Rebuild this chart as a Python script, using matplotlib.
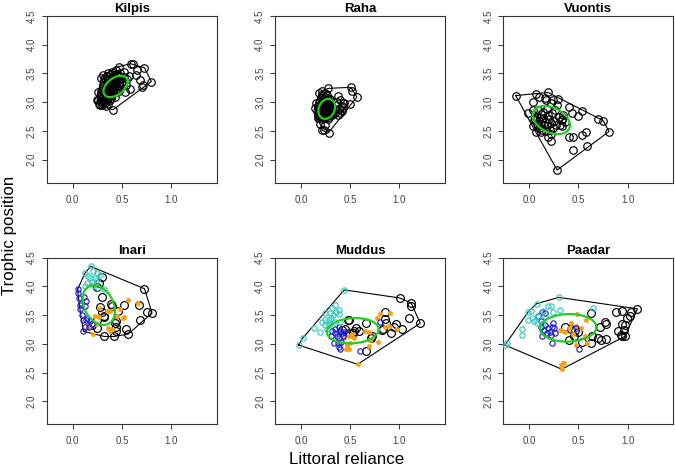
import numpy as np
import matplotlib
matplotlib.use("Agg")
import matplotlib.pyplot as plt

plt.rcParams['font.family'] = ['Liberation Sans', 'DejaVu Sans']

lakes = ["Kilpis", "Raha", "Vuontis", "Inari", "Muddus", "Paadar"]

# --- top row: single group (black open circles) ---
kilpis_pts = [
    (0.41, 2.87), (0.80, 3.36), (0.73, 3.60), (0.59, 3.67), (0.61, 3.66), (0.65, 3.56),
    (0.64, 3.47), (0.68, 3.39), (0.70, 3.26), (0.71, 3.30), (0.58, 3.23), (0.52, 3.53),
    (0.44, 3.56), (0.26, 3.18), (0.26, 3.04), (0.28, 2.95), (0.34, 2.94), (0.54, 3.30),
    (0.47, 3.62), (0.27, 2.97), (0.30, 2.96), (0.33, 2.99), (0.36, 2.97), (0.25, 3.03),
    (0.29, 3.05), (0.32, 3.02), (0.35, 3.06), (0.38, 3.03), (0.28, 3.11), (0.31, 3.09),
    (0.34, 3.12), (0.37, 3.10), (0.40, 3.13), (0.43, 3.09), (0.29, 3.19), (0.32, 3.17),
    (0.35, 3.20), (0.38, 3.18), (0.41, 3.21), (0.44, 3.17), (0.47, 3.20), (0.31, 3.27),
    (0.34, 3.25), (0.37, 3.28), (0.40, 3.26), (0.43, 3.29), (0.46, 3.25), (0.49, 3.27),
    (0.32, 3.35), (0.35, 3.33), (0.38, 3.36), (0.41, 3.34), (0.44, 3.37), (0.47, 3.33),
    (0.50, 3.36), (0.33, 3.43), (0.36, 3.41), (0.40, 3.44), (0.43, 3.42), (0.46, 3.45),
    (0.49, 3.41), (0.52, 3.44), (0.36, 3.50), (0.40, 3.52), (0.44, 3.49), (0.48, 3.51),
    (0.29, 3.42), (0.31, 3.47), (0.55, 3.40), (0.57, 3.45), (0.53, 3.18),
    (0.285, 3.00), (0.315, 3.01), (0.345, 3.04), (0.30, 3.07), (0.33, 3.07), (0.36, 3.09),
    (0.39, 3.08), (0.295, 3.14), (0.325, 3.14), (0.355, 3.15), (0.385, 3.14), (0.415, 3.16),
    (0.305, 3.22), (0.335, 3.22), (0.365, 3.23), (0.395, 3.23), (0.425, 3.24), (0.455, 3.23),
    (0.32, 3.30), (0.35, 3.30), (0.38, 3.31), (0.41, 3.30), (0.44, 3.32), (0.47, 3.30),
    (0.34, 3.38), (0.37, 3.39), (0.40, 3.39), (0.43, 3.40), (0.46, 3.39), (0.35, 3.46),
    (0.38, 3.47), (0.42, 3.47), (0.45, 3.47), (0.48, 3.46),
]
raha_pts = [
    (0.276, 3.24), (0.507, 3.26), (0.517, 3.19), (0.568, 3.09), (0.503, 2.965), (0.38, 3.10),
    (0.40, 3.04), (0.43, 2.98), (0.432, 2.90), (0.415, 2.84), (0.38, 2.78), (0.347, 2.81),
    (0.313, 2.78), (0.245, 2.60), (0.23, 2.51), (0.28, 2.47), (0.194, 2.62), (0.184, 3.16),
    (0.21, 3.19), (0.245, 3.16), (0.153, 2.98), (0.143, 2.90), (0.177, 2.72), (0.218, 2.51),
    (0.18, 2.72), (0.21, 2.70), (0.24, 2.73), (0.27, 2.71), (0.17, 2.78), (0.20, 2.80),
    (0.23, 2.77), (0.26, 2.79), (0.29, 2.78), (0.32, 2.80), (0.16, 2.85), (0.19, 2.87),
    (0.22, 2.84), (0.25, 2.86), (0.28, 2.85), (0.31, 2.87), (0.17, 2.93), (0.20, 2.91),
    (0.23, 2.94), (0.26, 2.92), (0.29, 2.94), (0.32, 2.92), (0.18, 3.00), (0.21, 2.98),
    (0.24, 3.01), (0.27, 2.99), (0.30, 3.02), (0.20, 3.07), (0.23, 3.05), (0.26, 3.08),
    (0.29, 3.06), (0.22, 3.13), (0.26, 3.12), (0.36, 2.95), (0.39, 2.88), (0.42, 2.93),
    (0.37, 3.01), (0.44, 2.98), (0.40, 2.82), (0.35, 2.86),
    (0.195, 2.75), (0.225, 2.75), (0.255, 2.76), (0.285, 2.75), (0.185, 2.82), (0.215, 2.82),
    (0.245, 2.82), (0.275, 2.82), (0.305, 2.83), (0.18, 2.89), (0.21, 2.89), (0.24, 2.90),
    (0.27, 2.89), (0.30, 2.90), (0.19, 2.96), (0.22, 2.96), (0.25, 2.97), (0.28, 2.96),
    (0.31, 2.97), (0.21, 3.03), (0.245, 3.03), (0.28, 3.03),
]
vuontis_pts = [
    (-0.138, 3.116), (0.069, 3.145), (0.19, 3.17), (0.155, 3.07), (0.103, 3.09), (0.241, 3.04),
    (0.293, 3.06), (0.217, 2.98), (0.172, 3.04), (0.034, 3.00), (-0.017, 2.81), (0.034, 2.87),
    (0.086, 2.87), (0.052, 2.69), (0.034, 2.58), (0.086, 2.58), (0.069, 2.49), (0.12, 2.49),
    (0.19, 2.40), (0.224, 2.33), (0.283, 1.82), (0.407, 2.39), (0.441, 2.40), (0.441, 2.17),
    (0.541, 2.43), (0.576, 2.49), (0.586, 2.23), (0.81, 2.49), (0.752, 2.68), (0.70, 2.71),
    (0.534, 2.84), (0.50, 2.76), (0.43, 2.81), (0.407, 2.92), (0.328, 2.69), (0.345, 2.78),
    (0.362, 2.65), (0.31, 2.61), (0.328, 2.58), (0.08, 2.75), (0.10, 2.68), (0.12, 2.62),
    (0.14, 2.72), (0.16, 2.66), (0.18, 2.58), (0.20, 2.70), (0.22, 2.63), (0.24, 2.55),
    (0.10, 2.55), (0.13, 2.52), (0.17, 2.50), (0.12, 2.80), (0.15, 2.60), (0.19, 2.77),
    (0.25, 2.68), (0.27, 2.60), (0.08, 2.62), (0.21, 2.52), (0.06, 2.70), (0.11, 2.72),
    (0.23, 2.82), (0.30, 2.75), (0.33, 2.70), (0.26, 2.86), (0.18, 2.88), (0.14, 2.83),
    (0.28, 2.95), (0.22, 2.45),
]

# --- bottom row: four groups ---
inari_black = [
    (0.30, 4.16), (0.27, 4.06), (0.243, 3.99), (0.30, 3.81), (0.277, 3.64), (0.39, 3.70),
    (0.40, 3.66), (0.456, 3.57), (0.524, 3.67), (0.672, 3.67), (0.73, 3.96), (0.757, 3.55),
    (0.807, 3.54), (0.686, 3.42), (0.54, 3.26), (0.564, 3.17), (0.42, 3.13), (0.32, 3.13),
    (0.44, 3.22), (0.436, 3.30), (0.43, 3.37), (0.314, 3.49), (0.317, 3.47), (0.25, 3.41),
    (0.25, 3.28), (0.196, 3.33), (0.44, 3.40), (0.294, 3.55),
]
inari_orange = [
    (0.567, 3.76), (0.48, 3.61), (0.52, 3.47), (0.51, 3.45), (0.378, 3.57), (0.345, 3.57),
    (0.27, 3.62), (0.264, 3.47), (0.226, 3.49), (0.233, 3.35), (0.159, 3.33), (0.159, 3.27),
    (0.21, 3.18), (0.36, 3.28), (0.395, 3.26), (0.378, 3.22), (0.666, 3.71), (0.45, 3.49),
]
inari_blue = [
    (0.05, 3.95), (0.057, 3.89), (0.064, 3.80), (0.084, 3.72), (0.074, 3.60), (0.09, 3.50),
    (0.108, 3.41), (0.125, 3.30), (0.108, 3.22), (0.135, 3.41), (0.135, 3.75), (0.125, 3.66),
    (0.176, 3.40), (0.193, 3.34), (0.17, 3.30), (0.115, 3.82), (0.074, 3.68), (0.149, 3.45),
]
inari_cyan = [
    (0.182, 4.35), (0.125, 4.23), (0.159, 4.19), (0.21, 4.26), (0.243, 4.23), (0.176, 4.14),
    (0.226, 4.14), (0.193, 4.08), (0.149, 4.06), (0.243, 4.11), (0.21, 4.03), (0.277, 4.20),
    (0.125, 4.00), (0.26, 3.98), (0.317, 3.95),
]

muddus_black = [
    (1.003, 3.80), (1.12, 3.71), (1.12, 3.66), (1.10, 3.45), (1.213, 3.36), (1.03, 3.26),
    (0.97, 3.34), (0.95, 3.30), (0.92, 3.19), (0.858, 3.56), (0.858, 3.43), (0.864, 3.37),
    (0.824, 3.24), (0.83, 3.26), (0.72, 3.13), (0.664, 3.36), (0.66, 2.88), (0.71, 3.10),
    (0.478, 3.42), (0.49, 3.41), (0.535, 3.23), (0.525, 3.19), (0.586, 3.23), (0.56, 3.27),
    (0.45, 3.26), (0.417, 3.24), (0.49, 3.19),
]
muddus_orange = [
    (0.80, 3.52), (0.90, 3.53), (0.776, 3.45), (0.85, 3.30), (0.89, 3.31), (0.976, 3.26),
    (0.654, 3.22), (0.69, 3.20), (0.705, 3.07), (0.78, 3.04), (0.69, 2.97), (0.576, 2.645),
    (0.458, 2.91), (0.49, 2.91), (0.468, 2.98), (0.50, 3.01), (0.535, 3.10), (0.485, 3.13),
    (0.434, 3.10), (0.518, 3.17),
]
muddus_blue = [
    (0.80, 3.39), (0.603, 2.88), (0.383, 3.30), (0.40, 3.23), (0.35, 3.19), (0.366, 3.14),
    (0.383, 3.10), (0.417, 3.19), (0.332, 3.01), (0.383, 2.95), (0.40, 2.91), (0.315, 3.23),
    (0.35, 3.26), (0.41, 3.04), (0.424, 3.14), (0.376, 3.02), (0.305, 3.14), (0.434, 3.21),
]
muddus_cyan = [
    (-0.024, 2.98), (0.017, 3.10), (0.129, 3.27), (0.197, 3.21), (0.247, 3.42), (0.247, 3.33),
    (0.28, 3.42), (0.24, 3.53), (0.298, 3.53), (0.308, 3.45), (0.315, 3.62), (0.35, 3.68),
    (0.383, 3.59), (0.383, 3.52), (0.33, 3.50), (0.44, 3.94), (0.264, 3.26), (0.28, 3.33),
    (0.298, 3.36), (0.35, 3.38), (0.36, 3.56), (0.213, 3.38), (0.40, 3.38),
]

paadar_black = [
    (1.10, 3.61), (1.02, 3.49), (1.03, 3.55), (0.997, 3.45), (0.943, 3.58), (0.88, 3.55),
    (0.97, 3.33), (0.94, 3.34), (0.96, 3.24), (0.90, 3.22), (0.97, 3.13), (0.94, 3.13),
    (0.93, 3.16), (0.78, 3.08), (0.767, 3.38), (0.777, 3.34), (0.716, 3.30), (0.70, 3.10),
    (0.64, 3.14), (0.632, 3.02), (0.625, 3.53), (0.463, 3.24), (0.42, 3.26), (0.36, 3.30),
    (0.40, 3.06), (0.497, 3.21), (0.456, 3.13), (0.537, 3.04), (0.73, 3.07),
]
paadar_orange = [
    (0.58, 3.42), (0.49, 3.52), (0.42, 3.37), (0.40, 3.27), (0.345, 3.23), (0.36, 3.20),
    (0.31, 3.24), (0.48, 3.31), (0.53, 3.28), (0.564, 3.13), (0.48, 2.98), (0.318, 2.64),
    (0.345, 2.66), (0.33, 2.56), (0.355, 2.67), (0.446, 3.18), (0.59, 3.01),
]
paadar_blue = [
    (0.09, 3.49), (0.125, 3.56), (0.159, 3.53), (0.118, 3.40), (0.115, 3.29), (0.125, 3.13),
    (0.159, 3.33), (0.193, 3.27), (0.21, 3.21), (0.226, 3.30), (0.243, 3.36), (0.253, 3.27),
    (0.22, 3.15), (0.26, 3.19), (0.226, 3.01), (0.503, 2.92), (0.48, 3.27), (0.176, 3.19),
    (0.152, 3.24),
]
paadar_cyan = [
    (-0.247, 2.98), (-0.23, 3.01), (-0.078, 3.16), (-0.07, 3.26), (-0.017, 3.42), (-0.01, 3.56),
    (0.017, 3.58), (0.03, 3.45), (0.074, 3.70), (0.09, 3.49), (0.14, 3.58), (0.16, 3.48),
    (0.193, 3.66), (0.22, 3.66), (0.243, 3.56), (0.30, 3.81), (0.31, 3.59), (0.125, 3.35),
    (0.074, 3.37), (0.65, 3.62), (0.05, 3.40),
]

# standard ellipse per lake: centre, sd x, sd y, correlation
ell_cx = [0.436, 0.262, 0.224, 0.265, 0.527, 0.395]
ell_cy = [3.275, 2.885, 2.69, 3.675, 3.23, 3.28]
ell_sx = [0.123, 0.085, 0.19, 0.165, 0.263, 0.287]
ell_sy = [0.186, 0.174, 0.245, 0.345, 0.22, 0.24]
ell_rho = [0.45, 0.2, -0.35, -0.3, 0.1, 0.05]

x_ticks = [0.0, 0.5, 1.0]
y_ticks = [2.0, 2.5, 3.0, 3.5, 4.0, 4.5]


def hull(pts):
    p = sorted(set(pts))
    def cross(o, a, b):
        return (a[0]-o[0])*(b[1]-o[1]) - (a[1]-o[1])*(b[0]-o[0])
    lower = []
    for q in p:
        while len(lower) >= 2 and cross(lower[-2], lower[-1], q) <= 0:
            lower.pop()
        lower.append(q)
    upper = []
    for q in reversed(p):
        while len(upper) >= 2 and cross(upper[-2], upper[-1], q) <= 0:
            upper.pop()
        upper.append(q)
    h = lower[:-1] + upper[:-1]
    return h + [h[0]]


W, H = 675, 466
fig = plt.figure(figsize=(W/100, H/100), dpi=100)

col_left = [46.7, 275, 503.3]
row_top = [16, 257.7]
aw, ah = 170, 166.7

orange = '#F5A01A'
blue = '#1F1FD0'
cyan = '#3CC8C0'
groups = [
    [(kilpis_pts, 'black', 'open', 5.4)],
    [(raha_pts, 'black', 'open', 5.4)],
    [(vuontis_pts, 'black', 'open', 5.4)],
    [(inari_black, 'black', 'open', 5.6), (inari_orange, orange, 'fill', 3.3),
     (inari_blue, blue, 'open', 3.8), (inari_cyan, cyan, 'open', 3.8)],
    [(muddus_black, 'black', 'open', 5.6), (muddus_orange, orange, 'fill', 3.3),
     (muddus_blue, blue, 'open', 3.8), (muddus_cyan, cyan, 'open', 3.8)],
    [(paadar_black, 'black', 'open', 5.6), (paadar_orange, orange, 'fill', 3.3),
     (paadar_blue, blue, 'open', 3.8), (paadar_cyan, cyan, 'open', 3.8)],
]

t = np.linspace(0, 2*np.pi, 200)
for i, name in enumerate(lakes):
    r, c = divmod(i, 3)
    L = col_left[c]
    T = row_top[r]
    ax = fig.add_axes([L/W, 1 - (T+ah)/H, aw/W, ah/H])
    allpts = []
    for g in groups[i]:
        allpts += g[0]
    hp = hull(allpts)
    ax.plot([p[0] for p in hp], [p[1] for p in hp], color='black', lw=0.8, zorder=2)
    for pts, col, kind, ms in groups[i]:
        xs = [p[0] for p in pts]
        ys = [p[1] for p in pts]
        if kind == 'open':
            ax.plot(xs, ys, 'o', ms=ms, mfc='none', mec=col, mew=0.85, zorder=3)
        else:
            ax.plot(xs, ys, 'o', ms=ms, mfc=col, mec=col, mew=0.3, zorder=3)
    ex = ell_cx[i] + ell_sx[i]*np.cos(t)
    ey = ell_cy[i] + ell_sy[i]*(ell_rho[i]*np.cos(t) + np.sqrt(1 - ell_rho[i]**2)*np.sin(t))
    ax.plot(ex, ey, color='#22CC22', lw=1.6, zorder=4)

    ax.set_xlim(-0.264, 1.464)
    ax.set_ylim(1.6, 4.5)
    ax.set_xticks(x_ticks)
    ax.set_xticklabels(['0.0', '0.5', '1.0'])
    ax.set_yticks(y_ticks)
    ax.set_yticklabels([f'{v:.1f}' for v in y_ticks], rotation=90, va='center')
    ax.tick_params(direction='out', length=3.5, width=0.7, labelsize=7, colors='#333333',
                   labelcolor='#444444')
    ax.tick_params(axis='x', pad=5)
    for s in ax.spines.values():
        s.set_linewidth(0.8)
        s.set_color('#333333')
    ax.set_title(name, fontsize=9.5, fontweight='bold', pad=3)

fig.text(10/W, 1 - 235/H, 'Trophic position', rotation=90, ha='center', va='center', fontsize=12.2)
fig.text(347/W, 1 - 459/H, 'Littoral reliance', ha='center', va='center', fontsize=12.2)

fig.savefig('out.png', dpi=100)
